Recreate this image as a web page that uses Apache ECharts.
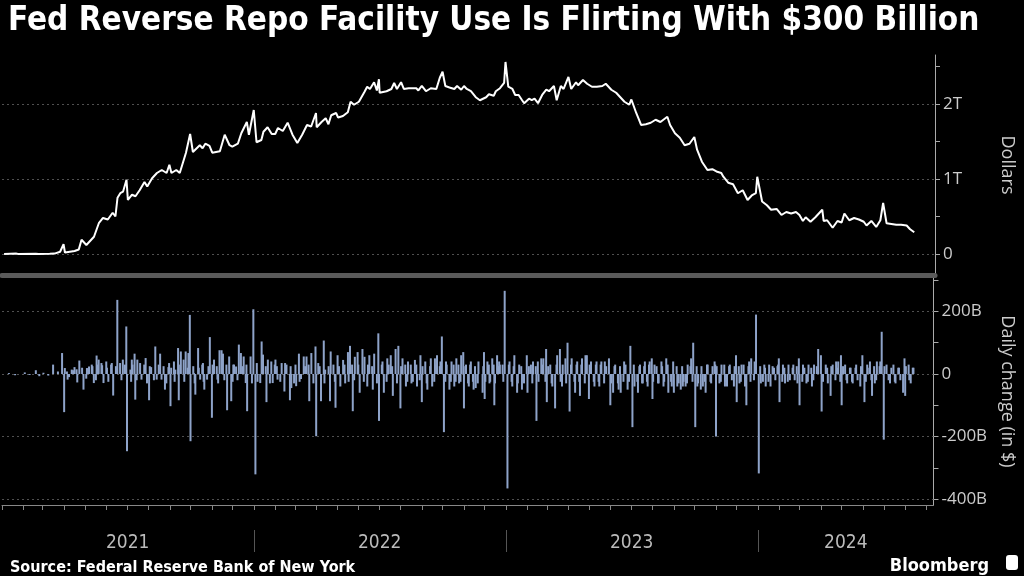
<!DOCTYPE html>
<html><head><meta charset="utf-8">
<script src="https://cdn.jsdelivr.net/npm/echarts@6/dist/echarts.min.js"></script>
<style>html,body{margin:0;padding:0;background:#000;}#c{width:1024px;height:576px;}</style>
</head><body><div id="c"></div>
<script>
// ---- Level of RRP usage (billions of dollars) ----
const levelDates = [
'2021-01-04','2021-01-22','2021-01-25','2021-02-19','2021-02-23','2021-03-11','2021-03-18','2021-03-26','2021-03-31','2021-04-02','2021-04-16','2021-04-22','2021-04-26','2021-05-03','2021-05-07','2021-05-14','2021-05-21','2021-05-27','2021-06-03','2021-06-10','2021-06-14','2021-06-17','2021-06-21','2021-06-25','2021-06-30','2021-07-02','2021-07-08','2021-07-13','2021-07-19','2021-07-26','2021-07-30','2021-08-06','2021-08-13','2021-08-20','2021-08-27','2021-08-31','2021-09-03','2021-09-10','2021-09-15','2021-09-20','2021-09-24','2021-09-30','2021-10-04','2021-10-14','2021-10-18','2021-10-22','2021-10-28','2021-11-01','2021-11-12','2021-11-19','2021-11-26','2021-11-30','2021-12-08','2021-12-13','2021-12-21','2021-12-24','2021-12-31',
'2022-01-04','2022-01-11','2022-01-14','2022-01-20','2022-01-26','2022-01-31','2022-02-04','2022-02-11','2022-02-18','2022-02-25','2022-03-04','2022-03-11','2022-03-18','2022-03-24','2022-03-31','2022-04-01','2022-04-08','2022-04-14','2022-04-18','2022-04-22','2022-04-29','2022-05-02','2022-05-09','2022-05-16','2022-05-20','2022-05-25','2022-05-27','2022-06-01','2022-06-09','2022-06-13','2022-06-17','2022-06-23','2022-06-27','2022-06-30','2022-07-01','2022-07-11','2022-07-18','2022-07-22','2022-07-26','2022-08-01','2022-08-05','2022-08-12','2022-08-23','2022-08-26','2022-08-31','2022-09-06','2022-09-13','2022-09-21','2022-09-26','2022-09-28','2022-09-30','2022-10-04','2022-10-10','2022-10-17','2022-10-21','2022-10-27','2022-10-31','2022-11-04','2022-11-10','2022-11-17','2022-11-23','2022-12-02','2022-12-06','2022-12-13','2022-12-16','2022-12-22','2022-12-28','2022-12-30',
'2023-01-03','2023-01-09','2023-01-13','2023-01-18','2023-01-23','2023-01-26','2023-02-02','2023-02-06','2023-02-10','2023-02-15','2023-02-21','2023-02-27','2023-03-03','2023-03-07','2023-03-10','2023-03-14','2023-03-20','2023-03-24','2023-03-31','2023-04-04','2023-04-11','2023-04-14','2023-04-21','2023-04-27','2023-05-04','2023-05-11','2023-05-19','2023-05-24','2023-06-01','2023-06-08','2023-06-15','2023-06-20','2023-06-27','2023-06-30','2023-07-07','2023-07-11','2023-07-14','2023-07-21','2023-07-28','2023-08-04','2023-08-11','2023-08-21','2023-08-25','2023-09-01','2023-09-08','2023-09-15','2023-09-22','2023-09-29','2023-10-03','2023-10-10','2023-10-18','2023-10-25','2023-10-31','2023-11-07','2023-11-10','2023-11-17','2023-11-24','2023-12-01','2023-12-08','2023-12-15','2023-12-21','2023-12-27','2023-12-29',
'2024-01-05','2024-01-12','2024-01-18','2024-01-26','2024-02-02','2024-02-09','2024-02-16','2024-02-23','2024-02-28','2024-03-04','2024-03-08','2024-03-15','2024-03-22','2024-04-01','2024-04-03','2024-04-08','2024-04-16','2024-04-23','2024-04-29','2024-05-03','2024-05-10','2024-05-17','2024-05-24','2024-05-31','2024-06-04','2024-06-11','2024-06-18','2024-06-24','2024-06-28','2024-07-03','2024-07-10','2024-07-17','2024-07-24','2024-08-01','2024-08-06','2024-08-12'
];
const levelValues = [
0,5,0,3,0,2,5,30,130,20,40,60,190,120,160,230,410,480,460,550,500,750,810,830,990,720,790,770,850,960,900,1010,1080,1120,1080,1190,1080,1120,1080,1230,1350,1600,1360,1450,1410,1470,1440,1350,1370,1590,1450,1430,1470,1610,1760,1590,1920,
1490,1520,1630,1690,1600,1600,1680,1640,1750,1590,1480,1590,1720,1700,1880,1690,1760,1810,1730,1850,1880,1820,1840,1890,2030,1990,1970,2030,2160,2230,2200,2290,2180,2330,2150,2170,2200,2280,2200,2290,2200,2210,2210,2180,2240,2170,2210,2200,2350,2330,2430,2240,2220,2200,2240,2190,2240,2200,2170,2090,2050,2090,2130,2110,2170,2210,2280,2560,
2230,2200,2120,2120,2050,2010,2070,2050,2070,2010,2120,2190,2170,2210,2240,2050,2240,2200,2360,2200,2290,2250,2320,2270,2230,2230,2240,2270,2190,2150,2080,2030,1990,2060,1880,1790,1720,1730,1750,1790,1760,1830,1720,1610,1550,1450,1470,1560,1390,1230,1120,1130,1100,1080,1030,950,930,810,850,720,780,810,1030,
700,650,590,600,520,560,540,560,520,440,490,430,490,590,440,450,350,440,420,540,450,480,460,430,380,440,360,450,680,410,400,390,390,380,330,290
];

// ---- Daily change (billions of dollars): the visible larger bars ----
const changeDates = [
'2021-02-19','2021-02-24','2021-03-16','2021-03-29','2021-04-01','2021-04-02','2021-04-06','2021-04-12','2021-04-16','2021-04-20','2021-04-23','2021-04-29','2021-05-04','2021-05-07','2021-05-11','2021-05-14','2021-05-18','2021-05-21','2021-05-25','2021-05-28','2021-06-01','2021-06-09','2021-06-11','2021-06-17','2021-06-21','2021-06-25','2021-06-30','2021-07-01','2021-07-06','2021-07-08','2021-07-12','2021-07-13','2021-07-16','2021-07-22','2021-07-28','2021-08-02','2021-08-05','2021-08-11','2021-08-13','2021-08-18','2021-08-20','2021-08-25','2021-08-30','2021-09-02','2021-09-07','2021-09-09','2021-09-13','2021-09-14','2021-09-17','2021-09-21','2021-09-24','2021-09-28','2021-09-30','2021-10-01','2021-10-06','2021-10-08','2021-10-12','2021-10-15','2021-10-19','2021-10-21','2021-10-25','2021-10-29','2021-11-01','2021-11-04','2021-11-09','2021-11-12','2021-11-15','2021-11-17','2021-11-23','2021-11-26','2021-11-29','2021-12-02','2021-12-06','2021-12-10','2021-12-13','2021-12-17','2021-12-20','2021-12-22','2021-12-27','2021-12-31',
'2022-01-03','2022-01-05','2022-01-10','2022-01-12','2022-01-14','2022-01-19','2022-01-21','2022-01-26','2022-01-28','2022-02-01','2022-02-04','2022-02-10','2022-02-14','2022-02-15','2022-02-22','2022-02-24','2022-03-03','2022-03-07','2022-03-10','2022-03-14','2022-03-18','2022-03-22','2022-03-25','2022-03-31','2022-04-01','2022-04-04','2022-04-08','2022-04-12','2022-04-14','2022-04-21','2022-04-22','2022-04-29',
'2022-05-02','2022-05-06','2022-05-10','2022-05-13','2022-05-17','2022-05-20','2022-05-24','2022-05-27','2022-05-31','2022-06-03','2022-06-07','2022-06-10','2022-06-14','2022-06-17','2022-06-22','2022-06-24','2022-06-30','2022-07-01','2022-07-06','2022-07-08','2022-07-13','2022-07-18','2022-07-21','2022-07-25','2022-07-29','2022-08-01','2022-08-04','2022-08-09','2022-08-12','2022-08-17','2022-08-22','2022-08-25','2022-08-30','2022-09-01','2022-09-06','2022-09-09','2022-09-14','2022-09-16','2022-09-20','2022-09-23','2022-09-28','2022-09-30','2022-10-03','2022-10-06','2022-10-11','2022-10-14','2022-10-18','2022-10-21','2022-10-25','2022-10-28','2022-10-31','2022-11-01','2022-11-04','2022-11-08','2022-11-11','2022-11-15','2022-11-18','2022-11-22','2022-11-28','2022-11-30','2022-12-01','2022-12-05','2022-12-08','2022-12-12','2022-12-15','2022-12-19','2022-12-22','2022-12-27','2022-12-30',
'2023-01-03','2023-01-06','2023-01-10','2023-01-13','2023-01-17','2023-01-20','2023-01-24','2023-01-27','2023-01-31','2023-02-01','2023-02-06','2023-02-09','2023-02-14','2023-02-16','2023-02-21','2023-02-24','2023-02-28','2023-03-01','2023-03-06','2023-03-09','2023-03-13','2023-03-16','2023-03-20','2023-03-23','2023-03-28','2023-03-31','2023-04-03','2023-04-06','2023-04-11','2023-04-14','2023-04-18','2023-04-21','2023-04-26','2023-04-28','2023-05-01','2023-05-04','2023-05-09','2023-05-12','2023-05-16','2023-05-19','2023-05-24','2023-05-30','2023-06-01','2023-06-05','2023-06-08','2023-06-13','2023-06-16','2023-06-21','2023-06-26','2023-06-30','2023-07-03','2023-07-06','2023-07-11','2023-07-14','2023-07-18','2023-07-21','2023-07-25','2023-07-28','2023-07-31','2023-08-01','2023-08-04','2023-08-09','2023-08-14','2023-08-17','2023-08-21','2023-08-24','2023-08-29','2023-08-31','2023-09-01','2023-09-06','2023-09-11','2023-09-14','2023-09-18','2023-09-21','2023-09-26','2023-09-29','2023-10-02','2023-10-05','2023-10-10','2023-10-13','2023-10-17','2023-10-20','2023-10-25','2023-10-30','2023-10-31','2023-11-01','2023-11-06','2023-11-09','2023-11-14','2023-11-17','2023-11-21','2023-11-27','2023-11-30','2023-12-01','2023-12-05','2023-12-08','2023-12-13','2023-12-15','2023-12-19','2023-12-22','2023-12-27','2023-12-29',
'2024-01-02','2024-01-05','2024-01-10','2024-01-12','2024-01-17','2024-01-19','2024-01-24','2024-01-30','2024-01-31','2024-02-01','2024-02-06','2024-02-09','2024-02-14','2024-02-16','2024-02-21','2024-02-27','2024-02-29','2024-03-01','2024-03-06','2024-03-11','2024-03-14','2024-03-19','2024-03-22','2024-03-28','2024-04-01','2024-04-02','2024-04-08','2024-04-11','2024-04-15','2024-04-18','2024-04-23','2024-04-26','2024-04-30','2024-05-01','2024-05-06','2024-05-09','2024-05-14','2024-05-17','2024-05-22','2024-05-28','2024-05-31','2024-06-03','2024-06-07','2024-06-11','2024-06-14','2024-06-18','2024-06-21','2024-06-26','2024-06-28','2024-07-01','2024-07-05','2024-07-10','2024-07-15','2024-07-18','2024-07-23','2024-07-29','2024-07-31','2024-08-01','2024-08-06','2024-08-09','2024-08-13'
];
const changeValues = [
12,-7,30,67,-122,19,-18,14,22,-27,43,-50,19,24,30,-29,59,46,35,-29,40,35,-69,237,35,46,152,-247,14,46,65,-82,46,-18,51,-84,22,88,-18,65,-18,-50,22,-103,40,14,83,-84,72,46,72,67,189,-215,3,-66,83,-18,35,-50,-18,118,-140,46,-18,76,76,65,-116,56,-87,30,24,94,67,56,-29,-119,56,207,
-321,35,-29,104,62,-90,46,40,-29,46,-18,35,-56,35,-84,-45,-39,65,-16,56,56,-87,67,88,-199,35,-87,107,14,-87,72,-108,
60,-40,45,-30,70,90,-119,55,70,-60,80,55,-40,60,-50,65,130,-150,40,-60,50,60,-70,80,90,-110,50,-40,40,-30,45,-40,60,-90,40,-50,50,-40,50,60,40,120,-186,40,-50,40,-40,50,-30,60,70,-110,30,-40,40,-50,-45,40,-60,70,-80,40,-30,50,-100,60,40,30,266,
-366,40,-40,60,-60,30,-50,-30,60,-60,30,40,-150,40,50,50,80,-90,30,-40,-110,60,80,-40,50,100,-120,50,-60,40,-70,50,60,60,-80,40,-40,40,-40,40,40,50,-100,-60,30,-50,-60,40,-50,90,-170,-40,-60,30,-30,40,-40,40,50,-80,30,-30,40,-40,50,-60,-40,40,-60,-40,-50,-40,-40,30,50,100,-170,-40,-50,-40,-60,30,-30,40,30,-200,-30,30,-40,-40,30,-40,60,-90,-30,30,-40,-100,40,50,40,190,
-318,-30,30,-40,30,-40,20,30,50,-90,30,-30,30,-20,30,-30,50,-100,30,-30,30,-40,30,80,60,-120,30,-30,-70,30,40,40,60,-100,30,-30,20,-30,30,-40,60,-90,30,40,-70,-30,40,40,135,-210,30,-30,30,-30,20,-60,50,-70,30,-30,20
];

// ---- Daily change: the dense small bars around zero ----
const smallDates = [
'2021-01-11','2021-01-20','2021-02-03','2021-02-10','2021-03-02','2021-03-09','2021-03-23',
'2021-04-05','2021-04-08','2021-04-14','2021-04-19','2021-04-27','2021-05-03','2021-05-06','2021-05-12','2021-05-17','2021-05-20','2021-05-26','2021-06-02','2021-06-04','2021-06-08','2021-06-15','2021-06-23','2021-06-28','2021-07-07','2021-07-09','2021-07-15','2021-07-20','2021-07-26','2021-07-30','2021-08-03','2021-08-09','2021-08-16','2021-08-23','2021-08-27','2021-08-31','2021-09-03','2021-09-08','2021-09-16','2021-09-22','2021-09-27','2021-10-05','2021-10-07','2021-10-13','2021-10-18','2021-10-20','2021-10-27','2021-11-02','2021-11-08','2021-11-10','2021-11-16','2021-11-19','2021-11-22','2021-12-01','2021-12-03','2021-12-08','2021-12-15','2021-12-21','2021-12-29',
'2022-01-06','2022-01-13','2022-01-18','2022-01-24','2022-01-31','2022-02-03','2022-02-08','2022-02-17','2022-02-23','2022-02-28','2022-03-02','2022-03-08','2022-03-16','2022-03-21','2022-03-28','2022-04-06','2022-04-13','2022-04-19','2022-04-26','2022-04-28','2022-05-04','2022-05-12','2022-05-18','2022-05-23','2022-05-26','2022-06-01','2022-06-09','2022-06-15','2022-06-21','2022-06-28','2022-07-05','2022-07-12','2022-07-15','2022-07-20','2022-07-27','2022-08-02','2022-08-08','2022-08-11','2022-08-16','2022-08-19','2022-08-24','2022-08-29','2022-09-02','2022-09-08','2022-09-13','2022-09-19','2022-09-22','2022-09-27','2022-10-05','2022-10-07','2022-10-13','2022-10-17','2022-10-20','2022-10-24','2022-10-27','2022-11-03','2022-11-07','2022-11-10','2022-11-14','2022-11-17','2022-11-21','2022-11-29','2022-12-02','2022-12-07','2022-12-09','2022-12-14','2022-12-16','2022-12-21','2022-12-23','2022-12-28',
'2023-01-05','2023-01-09','2023-01-12','2023-01-18','2023-01-23','2023-01-26','2023-02-03','2023-02-08','2023-02-13','2023-02-17','2023-02-23','2023-02-27','2023-03-03','2023-03-08','2023-03-15','2023-03-21','2023-03-24','2023-03-29','2023-04-05','2023-04-10','2023-04-13','2023-04-17','2023-04-20','2023-04-25','2023-05-02','2023-05-08','2023-05-11','2023-05-15','2023-05-18','2023-05-23','2023-05-26','2023-06-02','2023-06-07','2023-06-12','2023-06-15','2023-06-20','2023-06-23','2023-06-28','2023-07-05','2023-07-10','2023-07-13','2023-07-17','2023-07-20','2023-07-24','2023-07-27','2023-08-02','2023-08-07','2023-08-10','2023-08-15','2023-08-18','2023-08-23','2023-08-28','2023-09-05','2023-09-08','2023-09-13','2023-09-15','2023-09-20','2023-09-25','2023-09-28','2023-10-04','2023-10-06','2023-10-11','2023-10-16','2023-10-19','2023-10-24','2023-10-27','2023-11-02','2023-11-08','2023-11-13','2023-11-16','2023-11-20','2023-11-24','2023-11-28','2023-12-04','2023-12-07','2023-12-11','2023-12-14','2023-12-18','2023-12-21','2023-12-26','2023-12-28',
'2024-01-04','2024-01-08','2024-01-11','2024-01-16','2024-01-22','2024-01-26','2024-01-29','2024-02-05','2024-02-08','2024-02-13','2024-02-20','2024-02-23','2024-02-26','2024-03-05','2024-03-08','2024-03-13','2024-03-18','2024-03-21','2024-03-26','2024-04-04','2024-04-10','2024-04-16','2024-04-22','2024-04-25','2024-04-29','2024-05-03','2024-05-08','2024-05-13','2024-05-16','2024-05-21','2024-05-24','2024-05-29','2024-06-05','2024-06-10','2024-06-13','2024-06-17','2024-06-20','2024-06-25','2024-07-02','2024-07-08','2024-07-12','2024-07-17','2024-07-22','2024-07-25','2024-08-02','2024-08-07','2024-08-12'
];
const smallValues = [
3,-4,5,-3,4,-5,8,
8,-10,12,15,20,-15,18,25,-20,30,28,20,-25,30,25,-20,30,-25,30,-20,35,30,-30,25,-20,30,25,-30,35,20,-25,30,-25,20,25,-30,20,30,-25,25,30,25,-30,20,-20,30,-25,30,-20,25,30,-30,
-25,30,25,-30,30,25,-25,30,25,-30,30,-25,25,30,-30,25,-30,25,30,-25,25,30,-25,30,-20,30,-25,30,25,-30,30,-25,30,25,-30,25,30,-25,30,-25,30,-20,25,-30,25,-25,30,25,-25,30,-25,30,-25,30,-25,25,-30,30,-25,25,-30,25,-25,30,-25,30,-30,25,30,-25,
30,-25,25,-30,25,-25,25,-30,25,-25,30,-25,25,-30,30,-25,30,-30,30,-25,30,-25,30,-30,30,-25,30,-25,30,-30,25,-30,25,-30,25,-25,30,-25,30,-25,25,-30,25,-25,30,-25,25,-30,25,-25,30,-25,25,-30,25,-25,-30,25,-25,25,-30,25,-25,30,-25,25,25,-25,30,-25,25,-20,25,25,-25,30,-25,25,-25,-20,30,
25,-25,20,-25,25,-20,25,-25,20,-25,20,-20,25,-25,20,-25,20,-20,25,-25,20,25,-20,20,-25,25,-20,20,-25,20,-20,25,-25,20,-20,25,-20,25,25,-20,20,-25,20,-20,25,-20,20
];

// ---- Axis tick / label values ----
const levelTicks = [0, 500, 1000, 1500, 2000, 2500];
const levelLabels = [0, 1000, 2000];
const changeTicks = [-400, -300, -200, -100, 0, 100, 200, 300];
const changeLabels = [-400, -200, 0, 200];
const yearBounds = ['2022-01-01', '2023-01-01', '2024-01-01'];
const yearCenters = ['2021-07-02', '2022-07-02', '2023-07-02', '2024-05-07'];
const yearLabels = ['2021', '2022', '2023', '2024'];
const xMinDate = '2021-01-01', xMaxDate = '2024-09-11';

const ts = d => new Date(d + 'T00:00:00').getTime();
const xMin = ts(xMinDate), xMax = ts(xMaxDate);

const monthTicks = [];
for (let y = 2021; y <= 2024; y++) {
  for (let m = 0; m < 12; m++) {
    const t = new Date(y, m, 1).getTime();
    if (t <= xMax) monthTicks.push(t);
  }
}
const yearCenterTs = yearCenters.map(ts);

const barData = changeDates.map((d, i) => [ts(d), changeValues[i]])
  .concat(smallDates.map((d, i) => [ts(d), smallValues[i]]))
  .sort((a, b) => a[0] - b[0]);

const condensed = "'DejaVu Sans Condensed', 'DejaVu Sans', sans-serif";
const sans = "'Open Sans', 'Noto Sans', sans-serif";
const gridLine = { color: '#505050', type: [2, 3], width: 1 };

const chart = echarts.init(document.getElementById('c'), null, { renderer: 'canvas' });
chart.setOption({
  backgroundColor: '#000',
  animation: false,
  title: [
    { text: 'Fed Reverse Repo Facility Use Is Flirting With $300 Billion', left: 3, top: 0,
      textStyle: { color: '#fff', fontSize: 33, fontWeight: 'bold', fontFamily: condensed } },
    { text: 'Source: Federal Reserve Bank of New York', left: 5, top: 555,
      textStyle: { color: '#fff', fontSize: 16, fontWeight: 'bold', fontFamily: condensed } },
    { text: 'Bloomberg', right: 30, top: 552,
      textStyle: { color: '#fff', fontSize: 18, fontWeight: 'bold', fontFamily: condensed } }
  ],
  graphic: [
    { type: 'rect', right: 6, top: 555, shape: { width: 12, height: 15, r: 3 }, style: { fill: '#fff' } }
  ],
  grid: [
    { left: 2, right: 87, top: 55, height: 220 },
    { left: 2, right: 87, top: 278, height: 227 }
  ],
  xAxis: [
    { type: 'value', gridIndex: 0, min: xMin, max: xMax, scale: true,
      axisLine: { show: true, onZero: false, lineStyle: { color: '#5a5a5a', width: 5 } },
      axisTick: { show: false }, axisLabel: { show: false }, splitLine: { show: false } },
    { type: 'value', gridIndex: 1, min: xMin, max: xMax, scale: true, position: 'bottom',
      axisLine: { show: true, onZero: false, lineStyle: { color: '#888', width: 1 } },
      axisTick: { show: true, customValues: monthTicks, length: 5, lineStyle: { color: '#888' } },
      axisLabel: { show: false }, splitLine: { show: false } },
    { type: 'value', gridIndex: 1, min: xMin, max: xMax, scale: true, position: 'bottom', offset: 25,
      axisLine: { show: false, onZero: false },
      axisTick: { show: true, customValues: yearBounds.map(ts), length: 22, lineStyle: { color: '#555' } },
      axisLabel: { show: true, customValues: yearCenterTs, margin: 4, color: '#bbb', fontSize: 19, fontFamily: condensed,
        formatter: v => { const k = yearCenterTs.indexOf(v); return k >= 0 ? yearLabels[k] : String(new Date(v).getFullYear()); } },
      splitLine: { show: false } }
  ],
  yAxis: [
    { type: 'value', gridIndex: 0, position: 'right', min: -280, max: 2653,
      axisLine: { show: true, lineStyle: { color: '#aaa' } },
      axisTick: { show: true, customValues: levelTicks, length: 5, lineStyle: { color: '#aaa' } },
      axisLabel: { customValues: levelLabels, color: '#ccc', fontSize: 17, fontFamily: sans, margin: 8,
        formatter: v => v === 0 ? '0' : (v / 1000) + 'T' },
      splitLine: { show: false },
      name: 'Dollars', nameLocation: 'middle', nameRotate: -90, nameGap: 63,
      nameTextStyle: { color: '#ccc', fontSize: 18, fontFamily: sans } },
    { type: 'value', gridIndex: 1, position: 'right', min: -419, max: 307,
      axisLine: { show: true, lineStyle: { color: '#aaa' } },
      axisTick: { show: true, customValues: changeTicks, length: 5, lineStyle: { color: '#aaa' } },
      axisLabel: { customValues: changeLabels, color: '#ccc', fontSize: 17, fontFamily: sans, margin: 8,
        formatter: v => v === 0 ? '0' : v + 'B' },
      splitLine: { show: false },
      name: 'Daily change (in $)', nameLocation: 'middle', nameRotate: -90, nameGap: 63,
      nameTextStyle: { color: '#ccc', fontSize: 18, fontFamily: sans } }
  ],
  series: [
    { type: 'line', xAxisIndex: 0, yAxisIndex: 0,
      data: levelDates.map((d, i) => [ts(d), levelValues[i]]),
      showSymbol: false, symbol: 'none', lineStyle: { color: '#fff', width: 2 },
      markLine: { silent: true, z: 1, symbol: ['none', 'none'], label: { show: false },
        lineStyle: gridLine, data: levelLabels.map(v => ({ yAxis: v })) } },
    { type: 'bar', xAxisIndex: 1, yAxisIndex: 1,
      data: barData,
      barWidth: 2, itemStyle: { color: '#8ea3c9' },
      markLine: { silent: true, z: 1, symbol: ['none', 'none'], label: { show: false },
        lineStyle: gridLine, data: changeLabels.map(v => ({ yAxis: v })) } }
  ]
});
</script>
</body></html>
